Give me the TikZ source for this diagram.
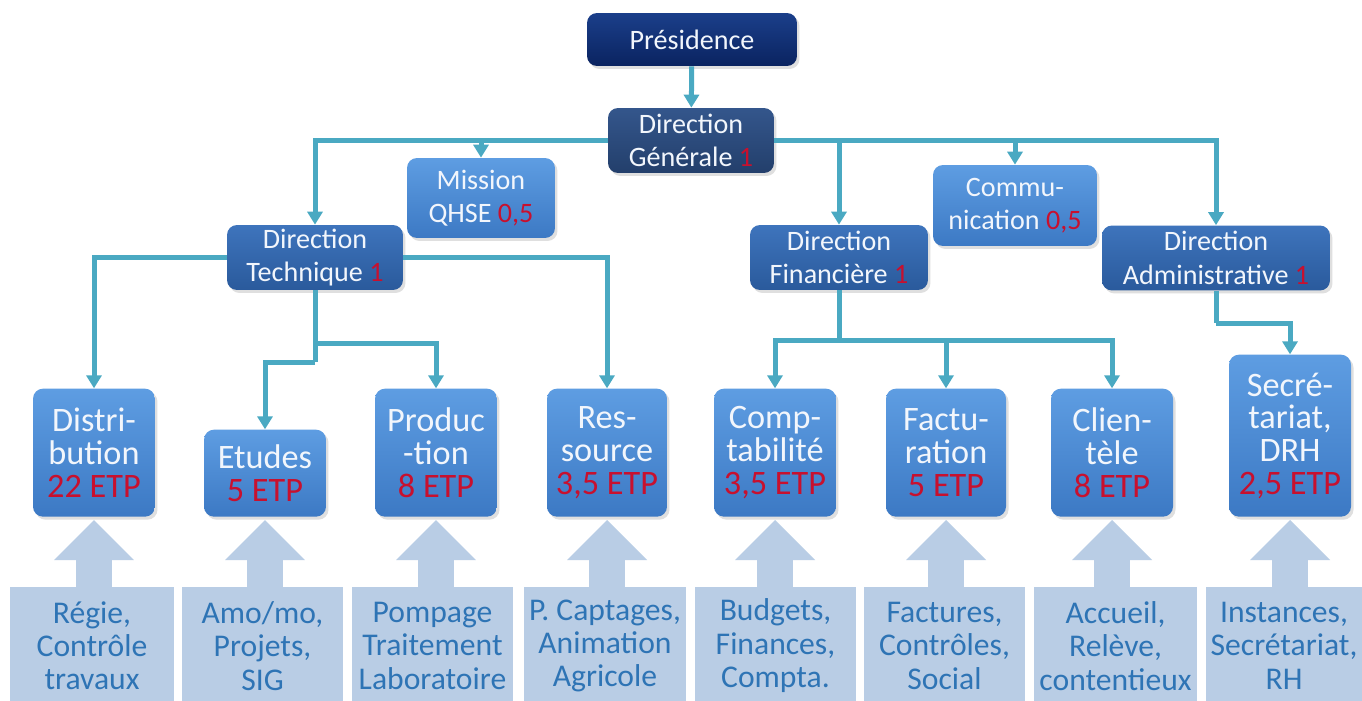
\documentclass[tikz,border=0pt]{standalone}
\usepackage{fontspec}
\setmainfont{Carlito}
\usetikzlibrary{arrows.meta,positioning,shadows}
\definecolor{linkc}{HTML}{4AA9C2}
\definecolor{presT}{HTML}{1B3F8A}
\definecolor{presB}{HTML}{0A2360}
\definecolor{dgT}{HTML}{34568C}
\definecolor{dgB}{HTML}{233F6B}
\definecolor{dirT}{HTML}{3E74BC}
\definecolor{dirB}{HTML}{2A5A9C}
\definecolor{unitT}{HTML}{5E9DE2}
\definecolor{unitB}{HTML}{3C79C4}
\definecolor{taskc}{HTML}{B9CDE5}
\definecolor{tasktxt}{HTML}{2E74B5}
\definecolor{nbred}{HTML}{C8102E}
\definecolor{txtc}{HTML}{F2F6FC}

\begin{document}
\begin{tikzpicture}[x=0.02cm,y=-0.02cm,
  every node/.style={align=center,inner sep=2pt},
  box/.style={text=txtc,rounded corners=0.2cm,font=\fontsize{16}{19}\selectfont,
    drop shadow={opacity=.25,shadow xshift=.05cm,shadow yshift=-.06cm}},
  presbox/.style={box,top color=presT,bottom color=presB,minimum width=4.2cm,minimum height=1.06cm},
  dgbox/.style={box,top color=dgT,bottom color=dgB,minimum width=3.32cm,minimum height=1.3cm},
  dirbox/.style={box,top color=dirT,bottom color=dirB,minimum height=1.3cm},
  unitbox/.style={box,top color=unitT,bottom color=unitB},
  teambox/.style={unitbox,anchor=south,minimum width=2.44cm,minimum height=2.56cm,inner sep=0pt,
    font=\fontsize{19.5}{18.6}\selectfont},
  taskbox/.style={anchor=north,fill=taskc,text=tasktxt,minimum height=2.34cm,inner sep=0pt,
    font=\fontsize{18}{19}\selectfont},
  wire/.style={draw=linkc,line width=0.1cm},
  link/.style={wire,-{Triangle[width=0.3cm,length=0.26cm]}},
  fat/.style={draw=taskc,line width=0.72cm,-{Triangle[width=1.6cm,length=0.8cm,line width=0pt]},shorten >=0.06cm}]
\path[use as bounding box,fill=white] (0,0) rectangle (1362,700);

\node[presbox] (pres) at (692,39.5) {Présidence};
\node[dgbox] (dg) at (691,140.5) {Direction\\Générale \textcolor{nbred}{1}};
\node[dirbox,minimum width=3.52cm] (dt) at (315,257.5) {Direction\\Technique \textcolor{nbred}{1}};
\node[unitbox,minimum width=2.96cm,minimum height=1.6cm] (qhse) at (481,198) {Mission\\QHSE \textcolor{nbred}{0,5}};
\node[dirbox,minimum width=3.56cm] (df) at (839,257.5) {Direction\\Financière \textcolor{nbred}{1}};
\node[unitbox,minimum width=3.28cm,minimum height=1.62cm] (com) at (1015,205.5) {Commu-\\nication \textcolor{nbred}{0,5}};
\node[dirbox,minimum width=4.56cm] (da) at (1216,258) {Direction\\Administrative \textcolor{nbred}{1}};

\node[teambox] (dist) at (94,517) {Distri-\\bution\\\textcolor{nbred}{22 ETP}};
\node[teambox,minimum height=1.74cm] (etu) at (265,517) {Etudes\\\textcolor{nbred}{5 ETP}};
\node[teambox] (prod) at (436,517) {Produc\\-tion\\\textcolor{nbred}{8 ETP}};
\node[teambox,minimum width=2.4cm] (res) at (607,517) {Res-\\source\\\textcolor{nbred}{3,5 ETP}};
\node[teambox] (compta) at (775,517) {Comp-\\tabilité\\\textcolor{nbred}{3,5 ETP}};
\node[teambox,minimum width=2.4cm] (fact) at (946,517) {Factu-\\ration\\\textcolor{nbred}{5 ETP}};
\node[teambox] (cli) at (1112,517) {Clien-\\tèle\\\textcolor{nbred}{8 ETP}};
\node[teambox,minimum height=3.24cm] (secr) at (1290,517) {Secré-\\tariat,\\DRH\\\textcolor{nbred}{2,5 ETP}};

\node[taskbox,minimum width=3.28cm] (t1) at (92,587) {Régie,\\Contrôle\\travaux};
\node[taskbox,minimum width=3.22cm] (t2) at (262.5,587) {Amo/mo,\\Projets,\\SIG};
\node[taskbox,minimum width=3.22cm] (t3) at (432.5,587) {Pompage\\Traitement\\Laboratoire};
\node[taskbox,minimum width=3.24cm] (t4) at (605,587) {P. Captages,\\Animation\\Agricole};
\node[taskbox,minimum width=3.22cm] (t5) at (775.5,587) {Budgets,\\Finances,\\Compta.};
\node[taskbox,minimum width=3.22cm] (t6) at (944.5,587) {Factures,\\Contrôles,\\Social};
\node[taskbox,minimum width=3.26cm] (t7) at (1115.5,587) {Accueil,\\Relève,\\contentieux};
\node[taskbox,minimum width=3.12cm] (t8) at (1284,587) {Instances,\\Secrétariat,\\RH};

\foreach \t/\u in {t1/dist,t2/etu,t3/prod,t4/res,t5/compta,t6/fact,t7/cli,t8/secr}
  \draw[fat] (\t.north -| \u.south) -- (\u.south);

\draw[link] (pres) -- (dg);
\draw[link] (dg.west) -| (dt.north);
\draw[link] (dg.west -| qhse.north) -- (qhse.north);
\draw[link] (dg.east) -| (da.north);
\draw[link] (dg.east -| df.north) -- (df.north);
\draw[link] (dg.east -| com.north) -- (com.north);
\draw[link] (dt.west) -| (dist.north);
\draw[link] (dt.east) -| (res.north);
\coordinate (tj1) at (315,343);
\coordinate (tj2) at (315,362);
\draw[wire] (dt.south) -- (tj2);
\draw[link] (tj1) -| (prod.north);
\draw[link] (tj2) -| (etu.north);
\coordinate (fj) at (839,340);
\draw[wire] (df.south) -- (fj);
\draw[link] (fj) -| (compta.north);
\draw[link] (fj) -| (cli.north);
\draw[link] (fact.north |- fj) -- (fact.north);
\coordinate (aj) at (1216,323);
\draw[wire] (da.south) -- (aj);
\draw[link] (aj) -| (secr.north);
\end{tikzpicture}
\end{document}
